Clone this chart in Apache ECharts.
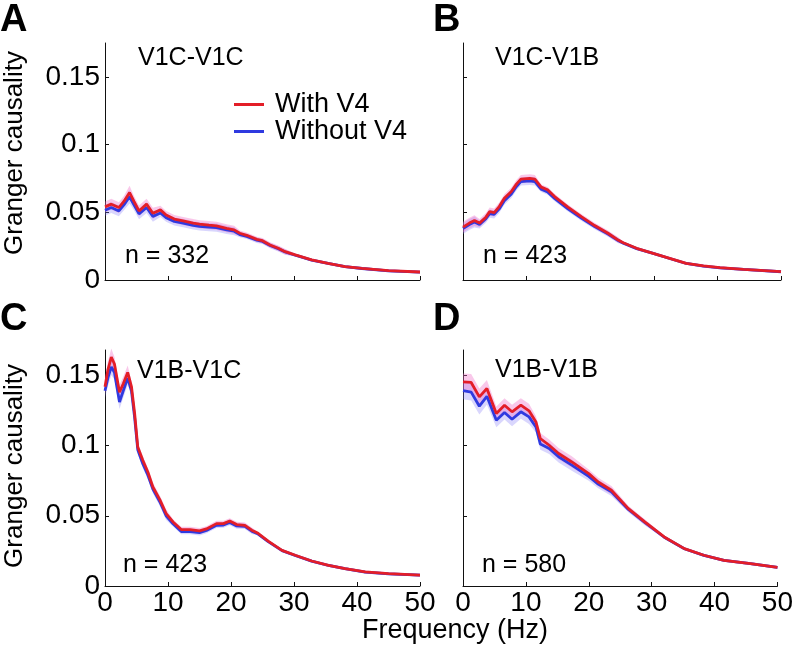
<!DOCTYPE html>
<html>
<head>
<meta charset="utf-8">
<script src="https://cdn.jsdelivr.net/npm/echarts@6/dist/echarts.min.js"></script>
<style>
html,body{margin:0;padding:0;background:#fff;}
#chart{width:796px;height:650px;}
</style>
</head>
<body>
<div id="chart"></div>
<script>
// ---------- DATA ----------
const seriesNames = ['With V4', 'Without V4'];
const panelLetters = ['A', 'B', 'C', 'D'];
const panelTitles = ['V1C-V1C', 'V1C-V1B', 'V1B-V1C', 'V1B-V1B'];
const panelN = ['n = 332', 'n = 423', 'n = 423', 'n = 580'];
const xTicks = [0, 10, 20, 30, 40, 50];
const yTicks = [0, 0.05, 0.1, 0.15];

// Panel A: V1C-V1C
const fA = [0,1,2.2,3,3.9,4.6,5.4,6.6,7.6,8.8,9.7,11,12.4,14,15,16.5,17.7,19.3,20.5,21.4,22.5,24.1,25,26.2,27.5,28.6,30.2,32.8,35.4,38.1,40.8,45,50];
const redA = [0.054,0.056,0.0535,0.058,0.0646,0.058,0.051,0.056,0.0493,0.0518,0.048,0.045,0.0436,0.042,0.0412,0.0405,0.040,0.0382,0.037,0.0345,0.033,0.030,0.029,0.0259,0.0234,0.0209,0.0185,0.0148,0.0123,0.0099,0.0086,0.0069,0.0059];
const blueA = [0.0515,0.0535,0.051,0.0555,0.0615,0.0555,0.0488,0.0535,0.047,0.0495,0.046,0.0432,0.042,0.0403,0.0396,0.039,0.0387,0.037,0.036,0.0335,0.0322,0.0294,0.0285,0.0255,0.0231,0.0207,0.0183,0.0147,0.0122,0.0098,0.0085,0.0068,0.0058];
const errA = [0.004,0.004,0.004,0.004,0.005,0.004,0.004,0.004,0.004,0.003,0.003,0.003,0.003,0.003,0.003,0.003,0.003,0.003,0.003,0.002,0.002,0.002,0.002,0.002,0.002,0.002,0.001,0.001,0.001,0.001,0.001,0.001,0.001];

// Panel B: V1C-V1B
const fB = [0,1,1.8,2.6,3.6,4.2,4.9,5.7,6.5,7.6,8.4,9.1,10.5,11.3,12.3,13.3,14.4,16.5,18.6,20.7,22.8,24.4,25.2,27.3,29.9,32.5,35.1,37.8,40.4,44.1,50];
const redB = [0.039,0.042,0.0439,0.042,0.0464,0.0505,0.0498,0.0542,0.0604,0.0653,0.0708,0.0745,0.075,0.0745,0.0686,0.0666,0.0616,0.0538,0.0468,0.0402,0.0345,0.0295,0.0275,0.0234,0.0197,0.016,0.0123,0.0104,0.0091,0.0079,0.0062];
const blueB = [0.038,0.041,0.0428,0.041,0.0452,0.049,0.0485,0.0525,0.0585,0.0635,0.069,0.0727,0.0732,0.0727,0.067,0.065,0.0602,0.0525,0.0458,0.0394,0.034,0.0292,0.0272,0.0232,0.0196,0.0159,0.0122,0.0103,0.009,0.0078,0.0061];
const errB = [0.004,0.004,0.004,0.003,0.003,0.003,0.003,0.003,0.003,0.003,0.003,0.003,0.003,0.003,0.002,0.002,0.002,0.002,0.002,0.002,0.002,0.002,0.001,0.001,0.001,0.001,0.001,0.001,0.001,0.001,0.001];

// Panel C: V1B-V1C
const fC = [0,0.45,1,1.5,2.3,2.9,3.6,4.2,4.7,5.2,6,6.8,7.6,8.7,9.7,10.8,12.1,13.5,15,16.1,17.7,18.8,19.8,20.9,22.2,23.3,24.3,25.9,28.1,30.2,32.8,35.5,38.1,41.3,45,50];
const redC = [0.1418,0.1536,0.163,0.158,0.138,0.144,0.152,0.142,0.123,0.099,0.0895,0.0812,0.0705,0.0615,0.0516,0.0456,0.0402,0.0402,0.0392,0.0406,0.0444,0.0444,0.0463,0.0437,0.0432,0.0397,0.0375,0.032,0.0254,0.0219,0.0178,0.0147,0.0124,0.010,0.0088,0.0078];
const blueC = [0.139,0.148,0.156,0.152,0.131,0.139,0.148,0.139,0.12,0.097,0.087,0.079,0.069,0.06,0.050,0.0443,0.0388,0.0388,0.038,0.0395,0.0432,0.0434,0.0452,0.0428,0.0425,0.039,0.037,0.0316,0.0252,0.0217,0.0177,0.0146,0.0123,0.0099,0.0087,0.0077];
const errC = [0.005,0.006,0.006,0.005,0.005,0.005,0.005,0.004,0.004,0.003,0.003,0.003,0.003,0.003,0.003,0.002,0.002,0.002,0.002,0.002,0.002,0.002,0.002,0.002,0.002,0.002,0.001,0.001,0.001,0.001,0.001,0.001,0.001,0.001,0.001,0.001];

// Panel D: V1B-V1B
const fD = [0,1.3,2.6,3.8,5.3,6.6,7.8,9.2,10.5,11.6,12.3,13.7,15.2,17.3,20,21.5,23.6,26.3,28.9,32,35.2,38.3,41.5,45.7,50];
const redD = [0.1453,0.1449,0.1346,0.1406,0.1228,0.1287,0.124,0.1287,0.1247,0.1168,0.105,0.1002,0.0943,0.0883,0.080,0.074,0.0682,0.0551,0.0456,0.0349,0.0266,0.0219,0.0183,0.016,0.0133];
const blueD = [0.139,0.138,0.128,0.135,0.118,0.1235,0.1187,0.124,0.1204,0.1132,0.101,0.0979,0.092,0.086,0.078,0.0725,0.067,0.0545,0.0452,0.0347,0.0265,0.0218,0.0182,0.0159,0.0132];
const errD = [0.006,0.006,0.006,0.006,0.005,0.005,0.005,0.005,0.005,0.004,0.004,0.004,0.004,0.004,0.003,0.003,0.003,0.002,0.002,0.001,0.001,0.001,0.001,0.001,0.001];

// ---------- STYLE / LAYOUT ----------
const FONT = '"Liberation Sans", Arial, Helvetica, sans-serif';
const RED = '#e31e28';
const BLUE = '#2f3ae0';
const RED_BAND = 'rgba(238,110,200,0.38)';
const BLUE_BAND = 'rgba(130,120,250,0.30)';

const panels = [
  {f: fA, red: redA, blue: blueA, err: errA, grid: {left: 105, top: 43, width: 315, height: 237}, ymax: 0.175, xl: false, yl: true},
  {f: fB, red: redB, blue: blueB, err: errB, grid: {left: 463, top: 43, width: 318, height: 237}, ymax: 0.175, xl: false, yl: false},
  {f: fC, red: redC, blue: blueC, err: errC, grid: {left: 105, top: 350, width: 315, height: 236}, ymax: 0.168, xl: true, yl: true},
  {f: fD, red: redD, blue: blueD, err: errD, grid: {left: 463, top: 350, width: 318, height: 236}, ymax: 0.168, xl: true, yl: false}
];

const grids = [], xAxes = [], yAxes = [], series = [];
panels.forEach((p, i) => {
  grids.push(Object.assign({containLabel: false}, p.grid));
  xAxes.push({
    type: 'value', gridIndex: i, min: 0, max: 50, interval: 10,
    axisLine: {show: true, onZero: false, lineStyle: {color: '#111', width: 1}},
    axisTick: {show: true, inside: true, length: 4, lineStyle: {color: '#111'}, customValues: xTicks},
    splitLine: {show: false},
    axisLabel: {show: p.xl, color: '#000', fontSize: 28, fontFamily: FONT, margin: 3, customValues: xTicks}
  });
  yAxes.push({
    type: 'value', gridIndex: i, min: 0, max: p.ymax, interval: 0.05,
    axisLine: {show: true, lineStyle: {color: '#111', width: 1}},
    axisTick: {show: true, inside: true, length: 4, lineStyle: {color: '#111'}, customValues: yTicks},
    splitLine: {show: false},
    axisLabel: {show: p.yl, color: '#000', fontSize: 28, fontFamily: FONT, margin: 5, customValues: yTicks,
      formatter: v => String(+(+v).toFixed(3))}
  });
  const addBand = (vals, color) => {
    const f = p.f, err = p.err;
    series.push({
      type: 'custom', xAxisIndex: i, yAxisIndex: i, silent: true, z: 1,
      data: f.map((x, k) => [x, vals[k] - err[k], vals[k] + err[k]]),
      encode: {x: 0, y: [1, 2]},
      renderItem: (params, api) => {
        if (params.dataIndex !== 0) return null;
        const pts = [];
        for (let k = 0; k < f.length; k++) pts.push(api.coord([f[k], vals[k] - err[k]]));
        for (let k = f.length - 1; k >= 0; k--) pts.push(api.coord([f[k], vals[k] + err[k]]));
        return {type: 'polygon', shape: {points: pts}, style: {fill: color}, silent: true};
      }
    });
  };
  addBand(p.blue, BLUE_BAND);
  addBand(p.red, RED_BAND);
  series.push({
    name: seriesNames[1], type: 'line', xAxisIndex: i, yAxisIndex: i, symbol: 'none',
    lineStyle: {color: BLUE, width: 2.8}, itemStyle: {color: BLUE}, z: 3,
    data: p.f.map((f, k) => [f, p.blue[k]])
  });
  series.push({
    name: seriesNames[0], type: 'line', xAxisIndex: i, yAxisIndex: i, symbol: 'none',
    lineStyle: {color: RED, width: 2.8}, itemStyle: {color: RED}, z: 4,
    data: p.f.map((f, k) => [f, p.red[k]])
  });
});

const txt = (text, x, y, size, extra) => Object.assign({
  type: 'text', x: x, y: y, silent: true,
  style: Object.assign({text: text, fill: '#000', fontSize: size, fontFamily: FONT, verticalAlign: 'middle', align: 'left'}, extra || {})
});

const graphics = [
  txt(panelLetters[0], 0, 21, 38, {fontWeight: 'bold'}),
  txt(panelLetters[1], 433, 21, 38, {fontWeight: 'bold'}),
  txt(panelLetters[2], 0, 320, 38, {fontWeight: 'bold'}),
  txt(panelLetters[3], 433, 320, 38, {fontWeight: 'bold'}),
  txt(panelTitles[0], 138, 58, 25),
  txt(panelTitles[1], 495, 58, 25),
  txt(panelTitles[2], 137, 371, 25),
  txt(panelTitles[3], 495, 370, 25),
  txt(panelN[0], 125, 256, 25),
  txt(panelN[1], 483, 256, 25),
  txt(panelN[2], 123, 565, 25),
  txt(panelN[3], 482, 565, 25),
  Object.assign(txt('Granger causality', 15, 153, 26, {align: 'center'}), {rotation: Math.PI / 2}),
  Object.assign(txt('Granger causality', 15, 466, 26, {align: 'center'}), {rotation: Math.PI / 2}),
  txt('Frequency (Hz)', 455, 631, 27, {align: 'center'})
];

const chart = echarts.init(document.getElementById('chart'), null, {renderer: 'canvas'});
chart.setOption({
  backgroundColor: '#fff',
  animation: false,
  textStyle: {fontFamily: FONT},
  legend: {
    data: seriesNames, orient: 'vertical', left: 229, top: 86, icon: 'rect',
    itemWidth: 30, itemHeight: 3, itemGap: 0, selectedMode: false,
    textStyle: {fontSize: 27, fontFamily: FONT, color: '#000', lineHeight: 27, padding: [0, 0, 0, 6]}
  },
  grid: grids,
  xAxis: xAxes,
  yAxis: yAxes,
  series: series,
  graphic: graphics
});
</script>
</body>
</html>
